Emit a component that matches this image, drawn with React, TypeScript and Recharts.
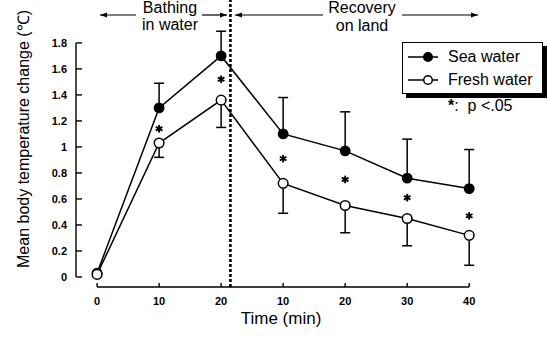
import React from 'react';
import {
  ComposedChart, Line, XAxis, YAxis, ErrorBar, ReferenceLine,
} from 'recharts';

// time points: 0-20 bathing in water, then 10-40 recovery on land
const timeLabels = ['0', '10', '20', '10', '20', '30', '40'];
const seaWater = [0.03, 1.3, 1.7, 1.1, 0.97, 0.76, 0.68];
const seaUpper = [0.03, 1.49, 1.89, 1.38, 1.27, 1.06, 0.98];
const freshWater = [0.02, 1.03, 1.36, 0.72, 0.55, 0.45, 0.32];
const freshLower = [0.02, 0.92, 1.15, 0.49, 0.34, 0.24, 0.09];
const sigMarks = [null, 1.14, 1.52, 0.91, 0.75, 0.61, 0.47];
const yTicks = [0, 0.2, 0.4, 0.6, 0.8, 1, 1.2, 1.4, 1.6, 1.8];
const bathEnd = 2.15;

const data = timeLabels.map((t, i) => ({
  idx: i,
  sea: seaWater[i],
  seaErr: [0, +(seaUpper[i] - seaWater[i]).toFixed(2)],
  fresh: freshWater[i],
  freshErr: [+(freshWater[i] - freshLower[i]).toFixed(2), 0],
  sig: sigMarks[i],
}));

const FONT = '"Liberation Sans", Arial, sans-serif';
const Y_MIN = -0.077;
const Y_MAX = 2.13;
const X_MIN = -0.34;
const X_MAX = 6.4;
// plot box (chart margins below give these)
const PLOT_L = 76;
const PLOT_R = 494;
const PLOT_B = 287;
const xPx = (v: number) => PLOT_L + ((v - X_MIN) / (X_MAX - X_MIN)) * (PLOT_R - PLOT_L);
const yPx = (v: number) => PLOT_B - ((v - Y_MIN) / (Y_MAX - Y_MIN)) * PLOT_B;

const Star = (props: any) => {
  const { cx, cy, value } = props;
  if (value == null || cy == null) return <g key={props.index} />;
  const r = 3.8;
  return (
    <g key={props.index} stroke="#000" strokeWidth={1.9}>
      <line x1={cx} y1={cy - r} x2={cx} y2={cy + r} />
      <line x1={cx - r * 0.87} y1={cy - r / 2} x2={cx + r * 0.87} y2={cy + r / 2} />
      <line x1={cx - r * 0.87} y1={cy + r / 2} x2={cx + r * 0.87} y2={cy - r / 2} />
    </g>
  );
};

const legendItems = [
  { name: 'Sea water', fill: '#000' },
  { name: 'Fresh water', fill: '#fff' },
];

const LegendBox = () => (
  <div style={{ position: 'absolute', left: 402, top: 42, fontFamily: FONT, fontSize: 16, color: '#000' }}>
    <div
      style={{
        width: 141, height: 52, border: '1.5px solid #000',
        boxShadow: '4px 4px 0 #000', background: '#fff', boxSizing: 'border-box',
        padding: '2px 0 0 4px',
      }}
    >
      {legendItems.map((s) => (
        <div key={s.name} style={{ display: 'flex', alignItems: 'center', height: 23, lineHeight: '23px' }}>
          <svg width={41} height={12}>
            <line x1={1} y1={6} x2={31} y2={6} stroke="#000" strokeWidth={1.5} />
            <circle cx={21} cy={6} r={4.3} fill={s.fill} stroke="#000" strokeWidth={1.5} />
          </svg>
          <span>{s.name}</span>
        </div>
      ))}
    </div>
    <div style={{ position: 'absolute', left: 46, top: 55, whiteSpace: 'pre', lineHeight: '18px' }}>
      <span style={{ fontWeight: 'bold' }}>*</span>:  p &lt;.05
    </div>
  </div>
);

const arrow = (x1: number, x2: number, y: number) => {
  const dir = x2 > x1 ? 1 : -1;
  return (
    <g>
      <line x1={x1} y1={y} x2={x2} y2={y} stroke="#000" strokeWidth={1.2} />
      <polygon points={`${x2},${y} ${x2 - dir * 7},${y - 2.5} ${x2 - dir * 7},${y + 2.5}`} fill="#000" />
    </g>
  );
};

export default function App() {
  return (
    <div style={{ position: 'absolute', left: 0, top: 0, width: 548, height: 340, background: '#fff' }}>
      <ComposedChart
        width={548}
        height={340}
        data={data}
        margin={{ top: 0, right: 548 - PLOT_R, bottom: 0, left: 0 }}
      >
        <XAxis
          dataKey="idx"
          type="number"
          domain={[X_MIN, X_MAX]}
          ticks={[0, 1, 2, 3, 4, 5, 6]}
          tickFormatter={(v: number) => timeLabels[v]}
          axisLine={false}
          tickLine={false}
          tickSize={0}
          tickMargin={10}
          height={340 - PLOT_B}
          tick={{ fill: '#000', fontSize: 11, fontWeight: 'bold', fontFamily: FONT }}
        />
        <YAxis
          type="number"
          domain={[Y_MIN, Y_MAX]}
          ticks={yTicks}
          allowDataOverflow
          axisLine={false}
          tickLine={false}
          tickSize={0}
          tickMargin={9}
          width={PLOT_L}
          tick={{ fill: '#000', fontSize: 11, fontWeight: 'bold', fontFamily: FONT }}
        />
        {/* end of bathing */}
        <ReferenceLine
          segment={[{ x: bathEnd, y: Y_MIN }, { x: bathEnd, y: Y_MAX }]}
          stroke="#000" strokeWidth={2.6} strokeDasharray="3 2" ifOverflow="visible"
        />
        {/* error bars first, so the markers cover the zero-length caps */}
        <Line dataKey="sea" stroke="none" dot={false} activeDot={false} legendType="none" isAnimationActive={false}>
          <ErrorBar dataKey="seaErr" width={5} stroke="#000" strokeWidth={1.5} direction="y" />
        </Line>
        <Line dataKey="fresh" stroke="none" dot={false} activeDot={false} legendType="none" isAnimationActive={false}>
          <ErrorBar dataKey="freshErr" width={5} stroke="#000" strokeWidth={1.5} direction="y" />
        </Line>
        <Line
          dataKey="sea"
          name="Sea water"
          stroke="#000"
          strokeWidth={1.5}
          dot={{ r: 4.8, fill: '#000', stroke: '#000', strokeWidth: 1.2 }}
          isAnimationActive={false}
        />
        <Line
          dataKey="fresh"
          name="Fresh water"
          stroke="#000"
          strokeWidth={1.5}
          dot={{ r: 4.8, fill: '#fff', stroke: '#000', strokeWidth: 1.5 }}
          isAnimationActive={false}
        />
        <Line
          dataKey="sig"
          stroke="none"
          legendType="none"
          dot={Star}
          activeDot={false}
          isAnimationActive={false}
        />
      </ComposedChart>
      <LegendBox />
      <svg
        width={548}
        height={340}
        style={{ position: 'absolute', left: 0, top: 0, pointerEvents: 'none' }}
        fontFamily={FONT}
      >
        {/* axis frame: y axis 0..1.8 with inward ticks, x axis under the time points */}
        <g stroke="#000" strokeWidth={1.4}>
          <line x1={xPx(X_MIN)} y1={yPx(0)} x2={xPx(X_MIN)} y2={yPx(1.8)} />
          {yTicks.map((v) => (
            <line key={'yt' + v} x1={xPx(X_MIN)} y1={yPx(v)} x2={xPx(X_MIN) + 6} y2={yPx(v)} />
          ))}
          <line x1={xPx(0)} y1={PLOT_B} x2={xPx(6)} y2={PLOT_B} />
          {timeLabels.map((_, i) => (
            <line key={'xt' + i} x1={xPx(i)} y1={PLOT_B} x2={xPx(i)} y2={PLOT_B - 4} />
          ))}
        </g>
        <text x={170} y={13} fontSize={16} textAnchor="middle">Bathing</text>
        <text x={170} y={30} fontSize={16} textAnchor="middle">in water</text>
        <text x={362} y={13} fontSize={16} textAnchor="middle">Recovery</text>
        <text x={362} y={31} fontSize={16} textAnchor="middle">on land</text>
        {arrow(136, 100, 15)}
        {arrow(202, 227, 15)}
        {arrow(323, 235, 15)}
        {arrow(402, 478, 15)}
        <text
          x={23} y={139} fontSize={16} textAnchor="middle" dominantBaseline="central"
          transform="rotate(-90 23 139)"
        >
          Mean body temperature change (℃)
        </text>
        <text x={281} y={324} fontSize={17} textAnchor="middle">Time (min)</text>
      </svg>
    </div>
  );
}
